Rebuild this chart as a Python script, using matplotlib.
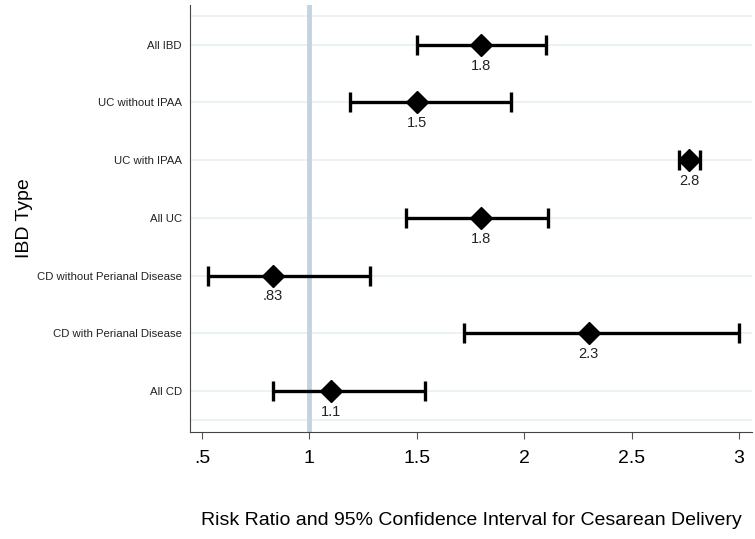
import matplotlib.pyplot as plt

# forest plot data
groups = ['All IBD', 'UC without IPAA', 'UC with IPAA', 'All UC',
          'CD without Perianal Disease', 'CD with Perianal Disease', 'All CD']
rr = [1.8, 1.5, 2.77, 1.8, 0.83, 2.3, 1.1]
ci_low = [1.5, 1.19, 2.72, 1.45, 0.53, 1.72, 0.83]
ci_high = [2.1, 1.94, 2.82, 2.11, 1.28, 3.0, 1.54]
rr_labels = ['1.8', '1.5', '2.8', '1.8', '.83', '2.3', '1.1']
xticks = [0.5, 1, 1.5, 2, 2.5, 3]
xtick_labels = ['.5', '1', '1.5', '2', '2.5', '3']

plt.rcParams['font.family'] = ['Liberation Sans', 'DejaVu Sans']

fig = plt.figure(figsize=(7.55, 5.39), dpi=100)
ax = fig.add_axes([0.2517, 0.1985, 0.744, 0.7925])

n = len(groups)
ypos = list(range(n, 0, -1))

# light grid rows
for y in [n + 0.5] + ypos + [0.5]:
    ax.axhline(y, color='#e8f1f2', lw=1.3, zorder=0)

# reference line at 1
ax.axvline(1, color='#c5d3df', lw=3.5, zorder=1)

xerr = [[r - lo for r, lo in zip(rr, ci_low)], [hi - r for r, hi in zip(rr, ci_high)]]
ax.errorbar(rr, ypos, xerr=xerr, fmt='D', color='black', ms=11, lw=2.4,
            capsize=7, capthick=2.4, zorder=3)

for x, y, lab in zip(rr, ypos, rr_labels):
    ax.annotate(lab, (x, y), xytext=(0, -15), textcoords='offset points',
                ha='center', va='center', fontsize=10.5, color='#222222')

ax.set_xlim(0.444, 3.06)
ax.set_ylim(0.29, 7.69)
ax.set_xticks(xticks)
ax.set_xticklabels(xtick_labels, fontsize=14)
ax.set_yticks(ypos)
ax.set_yticklabels(groups, fontsize=8.2, color='#222222')
ax.tick_params(axis='y', length=0, pad=6)
ax.tick_params(axis='x', length=5, color='#555555', pad=8)

ax.spines['top'].set_visible(False)
ax.spines['right'].set_visible(False)
ax.spines['left'].set_color('#444444')
ax.spines['bottom'].set_color('#444444')

ax.set_xlabel('Risk Ratio and 95% Confidence Interval for Cesarean Delivery',
              fontsize=14, labelpad=32)
ax.set_ylabel('IBD Type', fontsize=14)
ax.yaxis.set_label_coords(-0.28, 0.5)

fig.savefig('out.png', dpi=100)
